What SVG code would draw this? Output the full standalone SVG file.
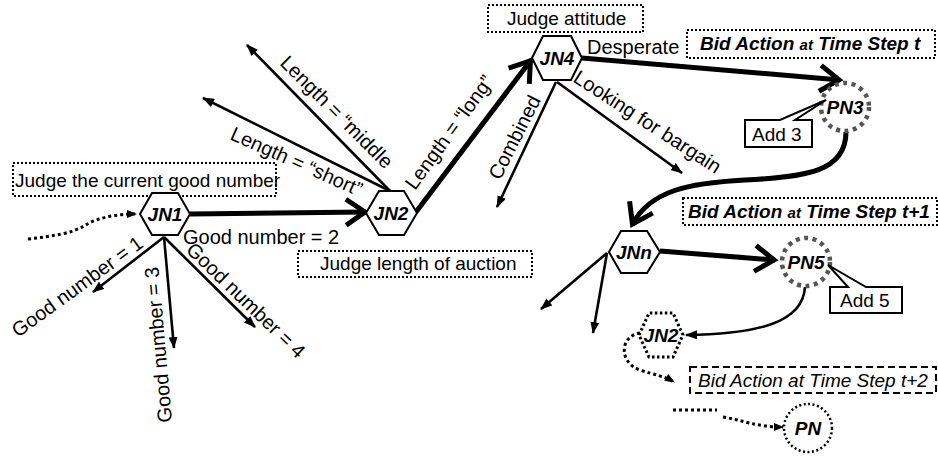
<svg xmlns="http://www.w3.org/2000/svg" width="938" height="457" viewBox="0 0 938 457">
  <defs>
    <style>
      text { font-family: "Liberation Sans", Arial, sans-serif; fill: #000; }
      .lbl { font-size: 20px; }
      .box { font-size: 19px; }
      .node { font-size: 19px; font-weight: bold; font-style: italic; text-anchor: middle; }
      .bid { font-size: 19px; font-weight: bold; font-style: italic; }
      .bid .sm { font-size: 15px; }
      .hex { fill: #fff; stroke: #000; stroke-width: 2; }
      .hexdot { fill: #fff; stroke: #000; stroke-width: 3; stroke-dasharray: 2.5 2.5; }
      .pn { fill: #fff; stroke: #555; stroke-width: 4.5; stroke-dasharray: 4 4.5; }
      .pndot { fill: #fff; stroke: #000; stroke-width: 2.5; stroke-dasharray: 2 2.5; }
      .dotbox { fill: #fff; stroke: #000; stroke-width: 2; stroke-dasharray: 2 2; }
      .dashbox { fill: #fff; stroke: #000; stroke-width: 2; stroke-dasharray: 7 4; }
      .call { fill: #fff; stroke: #000; stroke-width: 2; }
      .thin { fill: none; stroke: #000; stroke-width: 2.6; marker-end: url(#tri); }
      .thick { fill: none; stroke: #000; stroke-width: 5; marker-end: url(#chev); }
      .dotted { fill: none; stroke: #000; stroke-width: 3; stroke-dasharray: 3 3; }
    </style>
    <marker id="tri" viewBox="0 0 12 9" refX="11" refY="4.5" markerWidth="12" markerHeight="9" markerUnits="userSpaceOnUse" orient="auto">
      <path d="M0,0 L12,4.5 L0,9 Z" fill="#000"/>
    </marker>
    <marker id="tris" viewBox="0 0 10 8" refX="9" refY="4" markerWidth="10" markerHeight="8" markerUnits="userSpaceOnUse" orient="auto">
      <path d="M0,0 L10,4 L0,8 Z" fill="#000"/>
    </marker>
    <marker id="chev" viewBox="0 0 28 32" refX="22" refY="16" markerWidth="28" markerHeight="32" markerUnits="userSpaceOnUse" orient="auto" overflow="visible">
      <path d="M2,3 L21,16 L2,29" fill="none" stroke="#000" stroke-width="5"/>
    </marker>
  </defs>

  <rect width="938" height="457" fill="#fff"/>

  <!-- connectors -->
  <g id="connectors">
    <path class="dotted" d="M28,239 C55,236 72,233 84,226 C98,217 118,214 136,214" marker-end="url(#tris)"/>
    <line class="thick" x1="190" y1="214" x2="366" y2="212"/>
    <line class="thin" x1="164" y1="237" x2="93" y2="292"/>
    <line class="thin" x1="164" y1="237" x2="174" y2="348"/>
    <line class="thin" x1="164" y1="237" x2="255" y2="327"/>
    <line class="thin" x1="390" y1="191" x2="247" y2="45"/>
    <line class="thin" x1="390" y1="191" x2="203" y2="98"/>
    <line class="thick" x1="416" y1="212" x2="531" y2="60"/>
    <line class="thin" x1="556" y1="82" x2="497" y2="207"/>
    <line class="thin" x1="557" y1="82" x2="682" y2="173"/>
    <line class="thick" x1="582" y1="58" x2="840" y2="80"/>
    <path class="thick" d="M846,132 C846,172 805,177 745,180 C690,183 650,190 632,225"/>
    <line class="thick" x1="660" y1="251" x2="775" y2="260"/>
    <line class="thin" x1="607" y1="253" x2="541" y2="309"/>
    <line class="thin" x1="607" y1="253" x2="593" y2="333"/>
    <path class="thin" d="M805,287 C803,322 760,334 686,335"/>
    <path class="dotted" d="M640,333 C620,336 618,362 640,370 C655,375 664,376 674,382" marker-end="url(#tris)"/>
    <line class="dotted" x1="673" y1="410" x2="717" y2="410" stroke-dasharray="4.5 4"/>
    <path class="dotted" d="M723,417 C742,420 756,427 783,427" marker-end="url(#tris)"/>
  </g>

  <!-- edge labels -->
  <g id="edge-labels">
    <text class="lbl" x="183" y="244">Good number = 2</text>
    <text class="lbl" transform="translate(18,338) rotate(-36)">Good number = 1</text>
    <text class="lbl" transform="translate(172,422) rotate(-95)">Good number = 3</text>
    <text class="lbl" transform="translate(185,251) rotate(44)">Good number = 4</text>
    <text class="lbl" transform="translate(279,64) rotate(45)">Length = “middle</text>
    <text class="lbl" transform="translate(229,139) rotate(24)">Length = “short”</text>
    <text class="lbl" transform="translate(415,191) rotate(-54)">Length = “long”</text>
    <text class="lbl" transform="translate(500,181) rotate(-63)">Combined</text>
    <text class="lbl" transform="translate(572,81) rotate(33)">Looking for bargain</text>
    <text class="lbl" x="587" y="54">Desperate</text>
  </g>

  <!-- annotation boxes -->
  <g id="box-judge-good">
    <rect class="dotbox" x="13" y="163" width="263" height="33"/>
    <text class="box" x="15" y="187">Judge the current good number</text>
  </g>
  <g id="box-judge-length">
    <rect class="dotbox" x="298" y="251" width="234" height="26"/>
    <text class="box" x="320" y="270">Judge length of auction</text>
  </g>
  <g id="box-judge-attitude">
    <rect class="dotbox" x="488" y="5" width="155" height="27"/>
    <text class="box" x="507" y="25">Judge attitude</text>
  </g>
  <g id="box-step-t">
    <rect class="dotbox" x="687" y="30" width="248" height="28"/>
    <text class="bid" x="700" y="50">Bid Action <tspan class="sm">at</tspan> Time Step t</text>
  </g>
  <g id="box-step-t1">
    <rect class="dotbox" x="683" y="198" width="254" height="27"/>
    <text class="bid" x="688" y="218">Bid Action <tspan class="sm">at</tspan> Time Step t+1</text>
  </g>
  <g id="box-step-t2">
    <rect class="dashbox" x="690" y="367" width="246" height="26"/>
    <text class="box" x="698" y="387" font-style="italic">Bid Action at Time Step t+2</text>
  </g>

  <!-- judgement nodes -->
  <g id="JN1">
    <polygon class="hex" points="140,214 152,193 178,193 190,214 178,235 152,235"/>
    <text class="node" x="165" y="221">JN1</text>
  </g>
  <g id="JN2">
    <polygon class="hex" points="366,213 379,191 404,191 417,213 404,235 379,235"/>
    <text class="node" x="391" y="220">JN2</text>
  </g>
  <g id="JN4">
    <polygon class="hex" points="532,58 543,36 571,36 582,58 571,80 543,80"/>
    <text class="node" x="557" y="65">JN4</text>
  </g>
  <g id="JNn">
    <polygon class="hex" points="609,252 621,231 647,231 660,252 647,273 621,273"/>
    <text class="node" x="634" y="259">JNn</text>
  </g>
  <g id="JN2-next">
    <polygon class="hexdot" points="639,335 649,313 673,313 683,335 673,357 649,357"/>
    <text class="node" x="661" y="342">JN2</text>
  </g>

  <!-- price nodes -->
  <g id="PN3">
    <circle class="pn" cx="845" cy="107" r="24"/>
    <text class="node" x="845" y="114">PN3</text>
  </g>
  <g id="PN5">
    <circle class="pn" cx="806" cy="262" r="24"/>
    <text class="node" x="806" y="269">PN5</text>
  </g>
  <g id="PN">
    <circle class="pndot" cx="808" cy="428" r="24"/>
    <text class="node" x="808" y="435">PN</text>
  </g>

  <!-- callouts -->
  <g id="callout-add3">
    <path class="call" d="M745,120 H780 L826,100 L795,120 H812 V147 H745 Z"/>
    <text class="box" x="752" y="141" font-size="20">Add 3</text>
  </g>
  <g id="callout-add5">
    <path class="call" d="M830,287 H848 L828,265 L866,287 H902 V313 H830 Z"/>
    <text class="box" x="840" y="307" font-size="20">Add 5</text>
  </g>
</svg>
